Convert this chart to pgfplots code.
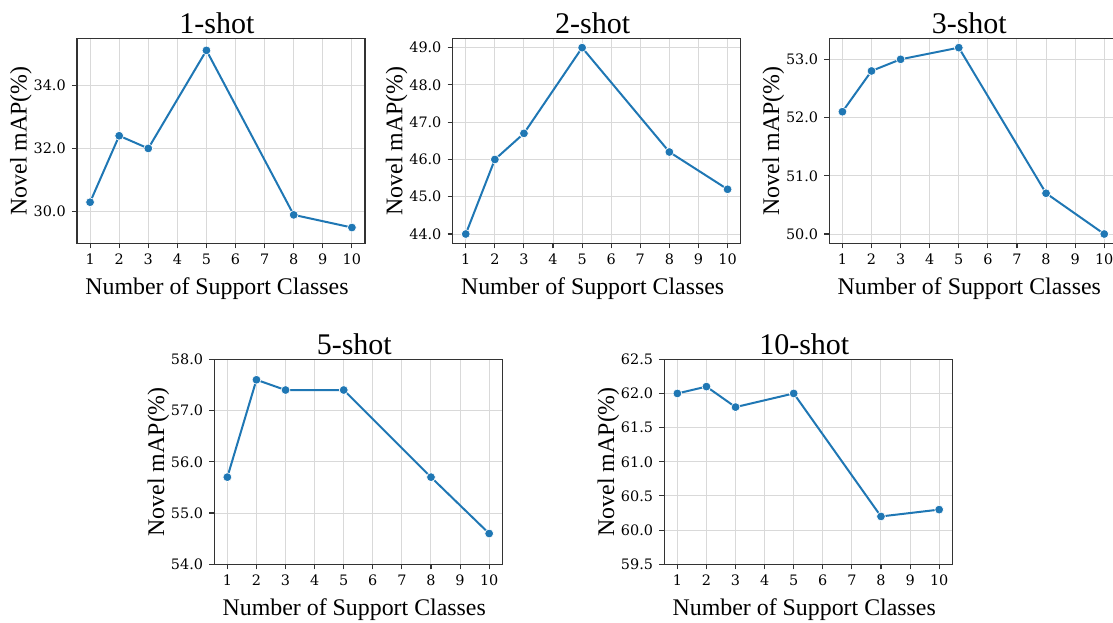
\documentclass[border=0pt]{standalone}
\usepackage{fontspec}
\setmainfont{Liberation Serif}
\newfontfamily\tickfont{DejaVu Serif}
\usepackage{pgfplots}
\pgfplotsset{compat=1.18}
\definecolor{tabblue}{HTML}{1F77B4}
\definecolor{gridc}{HTML}{D9D9D9}
\definecolor{spine}{HTML}{333333}
\pgfplotsset{
  shotaxis/.style={
    scale only axis,
    width=216pt, height=153.75pt,
    anchor=south west,
    xmin=0.55, xmax=10.45,
    xtick={1,2,3,4,5,6,7,8,9,10},
    grid=major,
    major grid style={gridc, line width=0.75pt},
    axis line style={spine, line width=0.9pt},
    tick style={spine, line width=0.8pt},
    tick align=outside,
    major tick length=3.75pt,
    xtick pos=bottom, ytick pos=left,
    /pgf/number format/assume math mode=true,
    tick label style={font=\tickfont\fontsize{10.8}{12}\selectfont, inner sep=0pt},
    xticklabel style={anchor=north, yshift=-3.75pt},
    yticklabel style={anchor=east, xshift=-4.5pt, /pgf/number format/.cd, fixed, fixed zerofill, precision=1},
    every axis title/.style={at={(axis description cs:0.5,1)}, yshift=3.9pt, xshift=-3pt, anchor=base, font=\fontsize{22.5}{26}\selectfont},
    every axis x label/.style={at={(axis description cs:0.5,0)}, yshift=-38.25pt, xshift=-3pt, anchor=base, font=\fontsize{17.9}{21}\selectfont},
    every axis y label/.style={at={(axis description cs:0,0.5)}, xshift=-37.7pt, rotate=90, anchor=base, font=\fontsize{17.9}{21}\selectfont},
    xlabel={Number of Support Classes},
    ylabel={Novel mAP(\%)},
  },
  shotline/.style={tabblue, line width=1.5pt, mark=*, mark size=3.3pt,
      mark options={fill=tabblue, draw=white, line width=0.5pt}},
}
\begin{document}
\begin{tikzpicture}
\useasboundingbox (0,0) rectangle (834.75pt,-466.5pt);
% 1-shot
\begin{axis}[shotaxis, at={(57.75pt,-182.5pt)}, title={1-shot},
  ymin=29.0, ymax=35.48, ytick={30,32,34}]
\addplot[shotline] coordinates {(1,30.3) (2,32.4) (3,32.0) (5,35.1) (8,29.9) (10,29.5)};
\end{axis}
% 2-shot
\begin{axis}[shotaxis, at={(339.5pt,-182.5pt)}, title={2-shot},
  ymin=43.75, ymax=49.25, ytick={44,45,46,47,48,49}]
\addplot[shotline] coordinates {(1,44.0) (2,46.0) (3,46.7) (5,49.0) (8,46.2) (10,45.2)};
\end{axis}
% 3-shot
\begin{axis}[shotaxis, at={(622pt,-182.5pt)}, title={3-shot},
  ymin=49.84, ymax=53.36, ytick={50,51,52,53}]
\addplot[shotline] coordinates {(1,52.1) (2,52.8) (3,53.0) (5,53.2) (8,50.7) (10,50.0)};
\end{axis}
% 5-shot
\begin{axis}[shotaxis, at={(160.7pt,-423.2pt)}, title={5-shot},
  ymin=54, ymax=58, ytick={54,55,56,57,58}]
\addplot[shotline] coordinates {(1,55.7) (2,57.6) (3,57.4) (5,57.4) (8,55.7) (10,54.6)};
\end{axis}
% 10-shot
\begin{axis}[shotaxis, at={(498.2pt,-423.2pt)}, title={10-shot},
  ymin=59.5, ymax=62.5, ytick={59.5,60,60.5,61,61.5,62,62.5}]
\addplot[shotline] coordinates {(1,62.0) (2,62.1) (3,61.8) (5,62.0) (8,60.2) (10,60.3)};
\end{axis}
\end{tikzpicture}
\end{document}
